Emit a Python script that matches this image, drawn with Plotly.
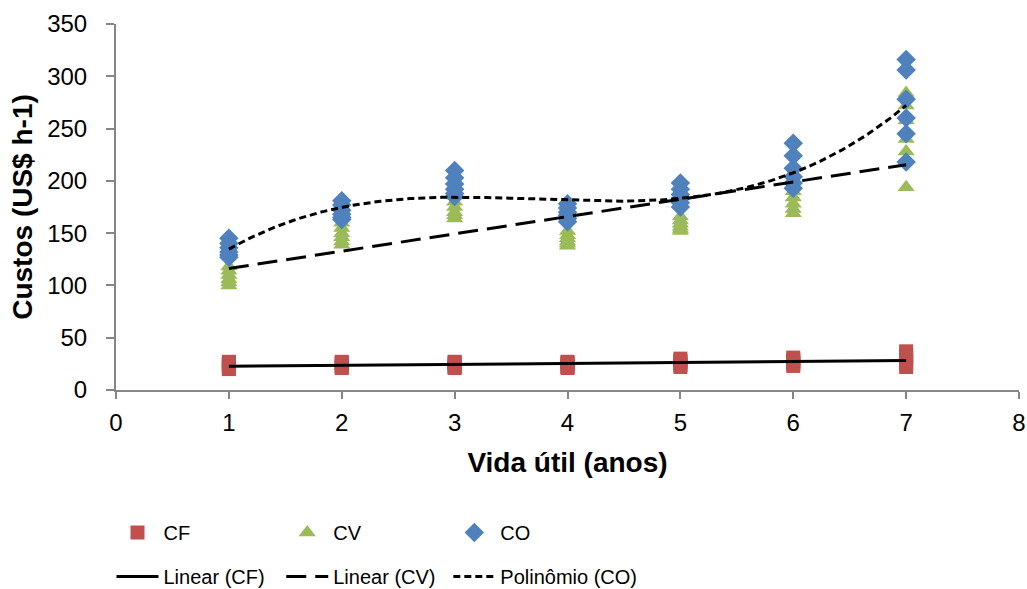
import numpy as np
import plotly.graph_objects as go

# Vida útil (anos)
anos = [1, 2, 3, 4, 5, 6, 7]

# Custos fixos (CF), US$ h-1, observações por ano
cf = [
    [20, 21, 23, 24, 26, 27],
    [21, 22, 23, 25, 26, 27],
    [21, 22, 23, 25, 26, 27],
    [21, 22, 23, 25, 26, 27],
    [22, 24, 25, 27, 28, 30],
    [23, 25, 26, 28, 29, 31],
    [22, 25, 28, 31, 34, 37],
]

# Custos variáveis (CV)
cv = [
    [118, 114, 110, 106, 103, 100],
    [160, 155, 150, 146, 142, 139],
    [186, 180, 175, 170, 167, 164],
    [152, 148, 145, 142, 140, 138],
    [166, 162, 159, 156, 154, 152],
    [196, 190, 184, 178, 173, 169],
    [284, 272, 258, 240, 228, 194],
]

# Custos operacionais (CO)
co = [
    [145, 140, 136, 132, 129, 127],
    [181, 177, 172, 168, 165, 163],
    [210, 203, 197, 192, 188, 185],
    [178, 174, 170, 167, 164, 161],
    [198, 192, 187, 183, 179, 175],
    [236, 224, 212, 204, 198, 193],
    [316, 306, 278, 260, 245, 218],
]

x_ticks = [0, 1, 2, 3, 4, 5, 6, 7, 8]
y_ticks = [0, 50, 100, 150, 200, 250, 300, 350]

FONT = "Liberation Sans, Arial, sans-serif"
C_CF = "#C0504D"
C_CV = "#9BBB59"
C_CO = "#4F81BD"
AXIS = "#868686"


def flatten(series):
    xs, ys = [], []
    for ano, vals in zip(anos, series):
        for v in vals:
            xs.append(ano)
            ys.append(v)
    return np.array(xs, dtype=float), np.array(ys, dtype=float)


x_cf, y_cf = flatten(cf)
x_cv, y_cv = flatten(cv)
x_co, y_co = flatten(co)

# Linhas de tendência ajustadas por mínimos quadrados
xf = np.linspace(min(anos), max(anos), 300)
fit_cf = np.polyval(np.polyfit(x_cf, y_cf, 1), xf)
fit_cv = np.polyval(np.polyfit(x_cv, y_cv, 1), xf)
fit_co = np.polyval(np.polyfit(x_co, y_co, 3), xf)

fig = go.Figure()

# Pontos observados: cada série abre uma coluna da legenda
fig.add_trace(go.Scatter(
    x=x_cf, y=y_cf, mode="markers", name="CF",
    marker=dict(symbol="square", size=14, color=C_CF),
    legend="legend", legendgroup="cf_pts",
))
fig.add_trace(go.Scatter(
    x=x_cv, y=y_cv, mode="markers", name="CV",
    marker=dict(symbol="triangle-up", size=15, color=C_CV),
    legend="legend2", legendgroup="cv_pts",
))
fig.add_trace(go.Scatter(
    x=x_co, y=y_co, mode="markers", name="CO",
    marker=dict(symbol="diamond", size=15, color=C_CO),
    legend="legend3", legendgroup="co_pts",
))

# Tendências, desenhadas por cima dos pontos
fig.add_trace(go.Scatter(
    x=xf, y=fit_cf, mode="lines", name="Linear (CF)",
    line=dict(color="black", width=3),
    legend="legend", legendgroup="cf_fit",
))
fig.add_trace(go.Scatter(
    x=xf, y=fit_cv, mode="lines", name="Linear (CV)",
    line=dict(color="black", width=3, dash="20px,9px"),
    legend="legend2", legendgroup="cv_fit",
))
fig.add_trace(go.Scatter(
    x=xf, y=fit_co, mode="lines", name="Polinômio (CO)",
    line=dict(color="black", width=3, dash="7px,4px"),
    legend="legend3", legendgroup="co_fit",
))


def legend_col(x):
    return dict(
        orientation="v", x=x, xanchor="left", y=-0.336, yanchor="top",
        tracegroupgap=15, traceorder="grouped", itemwidth=42,
        font=dict(family=FONT, size=20, color="black"),
        bgcolor="rgba(0,0,0,0)", borderwidth=0,
    )


fig.update_layout(
    width=1027, height=589,
    margin=dict(l=116, r=8, t=24, b=199, autoexpand=False),
    paper_bgcolor="white", plot_bgcolor="white",
    font=dict(family=FONT, color="black"),
    legend=legend_col(-0.005),
    legend2=legend_col(0.183),
    legend3=legend_col(0.368),
    xaxis=dict(
        range=[0, 8], tickvals=x_ticks, ticktext=[str(t) for t in x_ticks],
        showgrid=False, zeroline=False,
        showline=True, linecolor=AXIS, linewidth=2,
        ticks="outside", ticklen=7, tickcolor=AXIS, tickwidth=2,
        ticklabelstandoff=3,
        tickfont=dict(family=FONT, size=24, color="black"),
        title=dict(text="<b>Vida útil (anos)</b>", standoff=18,
                   font=dict(family=FONT, size=28, color="black")),
    ),
    yaxis=dict(
        range=[0, 350], tickvals=y_ticks, ticktext=[str(t) for t in y_ticks],
        showgrid=False, zeroline=False,
        showline=True, linecolor=AXIS, linewidth=2,
        ticks="outside", ticklen=8, tickcolor=AXIS, tickwidth=2,
        ticklabelstandoff=14,
        tickfont=dict(family=FONT, size=24, color="black"),
        title=dict(text="<b>Custos (US$ h-1)</b>", standoff=6,
                   font=dict(family=FONT, size=28, color="black")),
    ),
)

fig.write_html("out.html")
